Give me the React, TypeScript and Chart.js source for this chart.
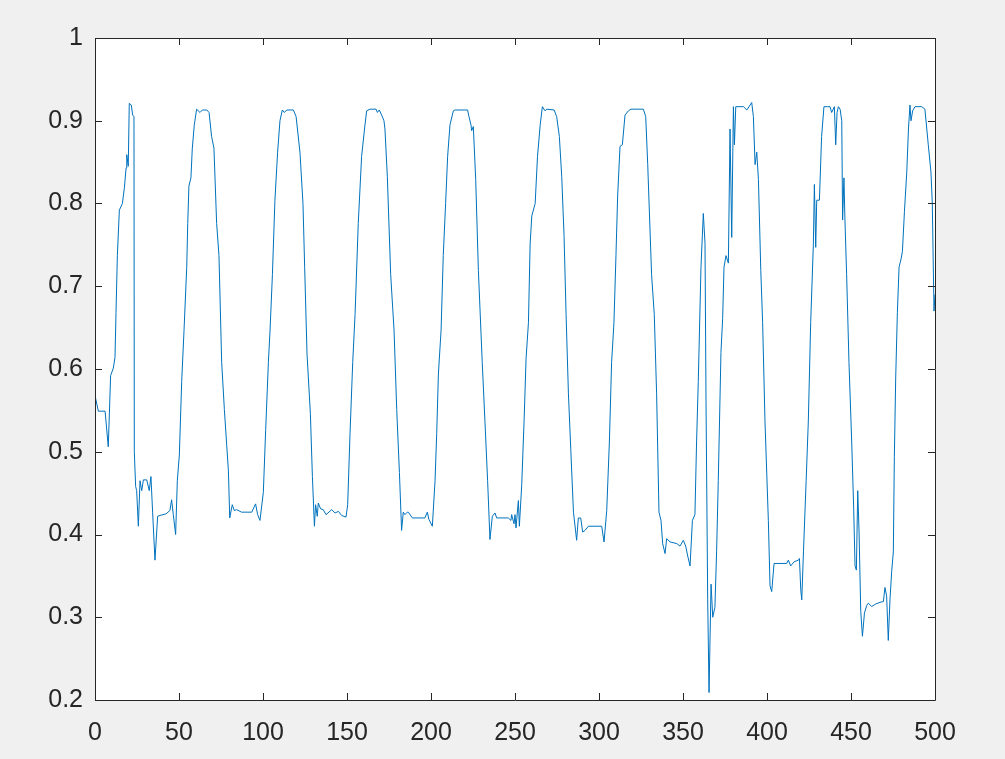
import React, { useEffect, useRef } from "react";
import { Chart, registerables } from "chart.js";

Chart.register(...registerables);

const xTicks = [0, 50, 100, 150, 200, 250, 300, 350, 400, 450, 500];
const yTicks = [0.2, 0.3, 0.4, 0.5, 0.6, 0.7, 0.8, 0.9, 1];

const xs = [
  0, 2, 6, 7.9, 9.3, 10.9, 11.9, 12.5, 13.3, 14.5, 16.3, 17.5, 18.5, 18.9, 19.8, 20.4, 21.6, 22.4, 23.2, 23.4,
  24.2, 24.8, 25.8, 26.8, 27.8, 28.8, 30.8, 32.3, 33.3, 34.3, 35.7, 37.3, 38.7, 42.3, 44.6, 45.6, 46.6, 48.0, 49.0, 50.2,
  51.6, 53.0, 54.6, 55.2, 55.9, 57.1, 57.9, 59.1, 60.5, 62.5, 63.9, 66.5, 67.9, 69.4, 70.8, 72.4, 73.8, 75.4, 77.0, 78.4,
  79.4, 80.2, 81.7, 82.9, 84.3, 87.3, 93.3, 95.6, 96.8, 98.2, 100.2, 101.6, 103.2, 104.2, 105.6, 107.1, 108.7, 110.1, 111.5, 112.7,
  114.1, 118.1, 119.7, 122.0, 123.8, 124.8, 126.2, 128.2, 129.4, 130.6, 131.3, 132.3, 132.9, 134.3, 135.9, 137.5, 140.9, 142.9, 144.9, 146.8,
  149.4, 150.4, 151.8, 153.4, 154.8, 156.7, 158.7, 160.7, 161.7, 163.7, 167.3, 168.1, 169.2, 170.6, 172.0, 172.6, 174.0, 176.0, 178.0, 179.6,
  181.2, 182.5, 183.5, 184.5, 185.9, 186.5, 188.9, 196.4, 197.8, 198.8, 200.8, 202.4, 203.4, 204.4, 206.0, 207.3, 208.7, 209.9, 211.3, 213.3,
  214.3, 221.8, 222.6, 223.8, 224.2, 225.2, 226.6, 228.2, 230.5, 232.1, 233.7, 235.1, 236.5, 238.1, 239.1, 246.0, 247.6, 248.0, 249.4, 250.0,
  250.6, 252.0, 252.6, 254.0, 255.4, 256.6, 258.0, 259.0, 260.0, 262.0, 263.4, 265.0, 266.3, 267.9, 268.9, 273.3, 274.8, 276.4, 277.8, 279.2,
  280.4, 281.8, 283.2, 284.8, 286.7, 287.7, 289.1, 290.3, 291.7, 293.7, 301.6, 303.0, 304.6, 306.2, 307.5, 308.9, 310.1, 311.1, 312.5, 313.9,
  315.5, 317.5, 319.0, 326.4, 327.8, 329.0, 331.3, 332.9, 334.3, 335.7, 336.9, 337.9, 339.3, 340.3, 342.3, 346.3, 348.2, 350.2, 351.6, 352.8,
  354.2, 355.6, 357.1, 358.1, 359.1, 360.7, 362.1, 363.1, 363.7, 364.7, 365.5, 366.7, 367.7, 369.0, 370.0, 371.0, 372.6, 373.6, 374.4, 375.6,
  377.0, 378.0, 379.0, 380.0, 380.6, 381.4, 386.0, 388.0, 390.9, 391.9, 392.9, 393.9, 394.9, 396.3, 397.4, 398.8, 400.8, 401.8, 402.8, 404.2,
  411.7, 412.7, 414.1, 416.1, 418.7, 419.3, 420.1, 420.7, 421.7, 423.3, 424.6, 426.0, 427.6, 428.2, 429.0, 429.6, 431.2, 432.5, 433.9, 435.9,
  437.5, 438.5, 440.1, 440.9, 441.7, 442.5, 443.5, 444.5, 445.0, 445.8, 446.4, 447.4, 448.8, 450.4, 451.6, 452.4, 453.2, 454.0, 454.8, 455.8,
  456.8, 458.0, 459.3, 460.3, 462.3, 464.7, 467.3, 469.3, 470.2, 471.2, 472.2, 473.2, 474.2, 475.2, 475.8, 476.6, 477.6, 478.6, 479.8, 480.6,
  481.8, 483.2, 484.2, 485.1, 485.7, 486.7, 488.1, 492.1, 494.0, 496.0, 497.6, 498.4, 499.4, 500
];

const ys = [
  0.568, 0.549, 0.549, 0.506, 0.592, 0.601, 0.614, 0.668, 0.737, 0.792, 0.8, 0.819, 0.843, 0.859, 0.845, 0.921, 0.919, 0.907, 0.905, 0.5,
  0.458, 0.453, 0.41, 0.465, 0.453, 0.466, 0.466, 0.453, 0.47, 0.427, 0.369, 0.422, 0.423, 0.425, 0.429, 0.442, 0.424, 0.4, 0.465, 0.496,
  0.585, 0.647, 0.723, 0.776, 0.821, 0.831, 0.866, 0.895, 0.914, 0.91, 0.913, 0.913, 0.91, 0.881, 0.867, 0.776, 0.737, 0.608, 0.551, 0.508,
  0.477, 0.42, 0.436, 0.429, 0.43, 0.427, 0.427, 0.437, 0.424, 0.417, 0.451, 0.527, 0.608, 0.647, 0.714, 0.804, 0.862, 0.9, 0.913, 0.91,
  0.913, 0.913, 0.905, 0.862, 0.8, 0.723, 0.618, 0.546, 0.47, 0.41, 0.436, 0.422, 0.438, 0.431, 0.43, 0.424, 0.43, 0.426, 0.428, 0.423,
  0.421, 0.436, 0.522, 0.608, 0.666, 0.776, 0.857, 0.895, 0.912, 0.914, 0.914, 0.91, 0.913, 0.907, 0.9, 0.89, 0.833, 0.714, 0.647, 0.551,
  0.475, 0.405, 0.427, 0.424, 0.427, 0.427, 0.42, 0.42, 0.427, 0.418, 0.41, 0.465, 0.522, 0.594, 0.647, 0.737, 0.8, 0.857, 0.895, 0.912,
  0.913, 0.913, 0.905, 0.895, 0.888, 0.893, 0.829, 0.719, 0.608, 0.537, 0.465, 0.394, 0.422, 0.426, 0.42, 0.42, 0.417, 0.424, 0.413, 0.424,
  0.408, 0.441, 0.41, 0.46, 0.537, 0.613, 0.656, 0.751, 0.785, 0.8, 0.857, 0.895, 0.917, 0.912, 0.914, 0.913, 0.905, 0.881, 0.833, 0.761,
  0.666, 0.57, 0.503, 0.427, 0.393, 0.42, 0.42, 0.403, 0.405, 0.41, 0.41, 0.391, 0.429, 0.513, 0.608, 0.656, 0.737, 0.809, 0.869, 0.871,
  0.907, 0.912, 0.914, 0.914, 0.905, 0.847, 0.714, 0.666, 0.57, 0.427, 0.417, 0.389, 0.377, 0.395, 0.391, 0.389, 0.386, 0.393, 0.386, 0.374,
  0.362, 0.417, 0.424, 0.513, 0.585, 0.723, 0.788, 0.752, 0.56, 0.321, 0.209, 0.34, 0.3, 0.312, 0.379, 0.465, 0.62, 0.661, 0.723, 0.737,
  0.728, 0.89, 0.759, 0.917, 0.871, 0.917, 0.917, 0.913, 0.922, 0.905, 0.847, 0.862, 0.829, 0.719, 0.656, 0.537, 0.417, 0.338, 0.331, 0.365,
  0.365, 0.369, 0.362, 0.367, 0.369, 0.371, 0.333, 0.321, 0.379, 0.465, 0.537, 0.656, 0.751, 0.823, 0.747, 0.804, 0.804, 0.881, 0.917, 0.917,
  0.917, 0.91, 0.917, 0.871, 0.91, 0.917, 0.914, 0.9, 0.78, 0.831, 0.78, 0.714, 0.608, 0.513, 0.431, 0.362, 0.357, 0.453, 0.403, 0.307,
  0.277, 0.305, 0.314, 0.317, 0.313, 0.316, 0.318, 0.319, 0.336, 0.326, 0.272, 0.321, 0.355, 0.379, 0.494, 0.589, 0.668, 0.723, 0.733, 0.742,
  0.79, 0.838, 0.89, 0.919, 0.9, 0.912, 0.917, 0.917, 0.914, 0.871, 0.838, 0.8, 0.67, 0.69
];

const AXIS_COLOR = "#262626";
const LINE_COLOR = "#0072BD";
const FONT = "Arial, 'Liberation Sans', Helvetica, sans-serif";

const framePlugin = {
  id: "matlabFrame",
  afterDraw(chart: any) {
    const { ctx, chartArea } = chart;
    const { left, right, top, bottom } = chartArea;
    const xs0 = chart.scales.x;
    const ys0 = chart.scales.y;
    const tl = 7;
    ctx.save();
    ctx.strokeStyle = AXIS_COLOR;
    ctx.lineWidth = 1;
    ctx.beginPath();
    ctx.rect(Math.round(left) + 0.5, Math.round(top) + 0.5, Math.round(right - left), Math.round(bottom - top));
    ctx.stroke();
    ctx.beginPath();
    xTicks.forEach((v) => {
      const px = Math.round(xs0.getPixelForValue(v)) + 0.5;
      ctx.moveTo(px, bottom);
      ctx.lineTo(px, bottom - tl);
      ctx.moveTo(px, top);
      ctx.lineTo(px, top + tl);
    });
    yTicks.forEach((v) => {
      const py = Math.round(ys0.getPixelForValue(v)) + 0.5;
      ctx.moveTo(left, py);
      ctx.lineTo(left + tl, py);
      ctx.moveTo(right, py);
      ctx.lineTo(right - tl, py);
    });
    ctx.stroke();
    ctx.restore();
  },
};

const bgPlugin = {
  id: "areaBg",
  beforeDraw(chart: any) {
    const { ctx, chartArea, width, height } = chart;
    ctx.save();
    ctx.fillStyle = "#f0f0f0";
    ctx.fillRect(0, 0, width, height);
    ctx.fillStyle = "#ffffff";
    ctx.fillRect(chartArea.left, chartArea.top, chartArea.right - chartArea.left, chartArea.bottom - chartArea.top);
    ctx.restore();
  },
};

export default function App() {
  const ref = useRef<HTMLCanvasElement | null>(null);
  useEffect(() => {
    if (!ref.current) return;
    const points = xs.map((x, i) => ({ x, y: ys[i] }));
    const chart = new Chart(ref.current, {
      type: "line",
      data: {
        datasets: [
          {
            data: points,
            borderColor: LINE_COLOR,
            borderWidth: 1,
            pointRadius: 0,
            tension: 0,
            fill: false,
          },
        ],
      },
      options: {
        responsive: false,
        animation: false,
        maintainAspectRatio: false,
        layout: { padding: { left: 0, top: 38, right: 70, bottom: 0 } },
        plugins: { legend: { display: false }, tooltip: { enabled: false } },
        scales: {
          x: {
            type: "linear",
            min: 0,
            max: 500,
            afterBuildTicks: (scale: any) => {
              scale.ticks = xTicks.map((v) => ({ value: v }));
            },
            afterFit: (scale: any) => {
              scale.height = 59;
            },
            grid: { display: false, drawTicks: false },
            border: { display: false },
            ticks: {
              color: AXIS_COLOR,
              font: { family: FONT, size: 25 },
              padding: 18,
              maxRotation: 0,
              autoSkip: false,
              callback: (v: any) => String(v),
            },
          },
          y: {
            type: "linear",
            min: 0.2,
            max: 1,
            afterBuildTicks: (scale: any) => {
              scale.ticks = yTicks.map((v) => ({ value: v }));
            },
            afterFit: (scale: any) => {
              scale.width = 95;
            },
            grid: { display: false, drawTicks: false },
            border: { display: false },
            ticks: {
              color: AXIS_COLOR,
              font: { family: FONT, size: 25 },
              padding: 12,
              autoSkip: false,
              callback: (v: any) => String(Number(Number(v).toFixed(1))),
            },
          },
        },
      },
      plugins: [bgPlugin, framePlugin],
    });
    return () => chart.destroy();
  }, []);
  return (
    <div style={{ position: "fixed", left: 0, top: 0, width: 1005, height: 759, background: "#f0f0f0" }}>
      <canvas ref={ref} width={1005} height={759} style={{ display: "block", width: 1005, height: 759 }} />
    </div>
  );
}
